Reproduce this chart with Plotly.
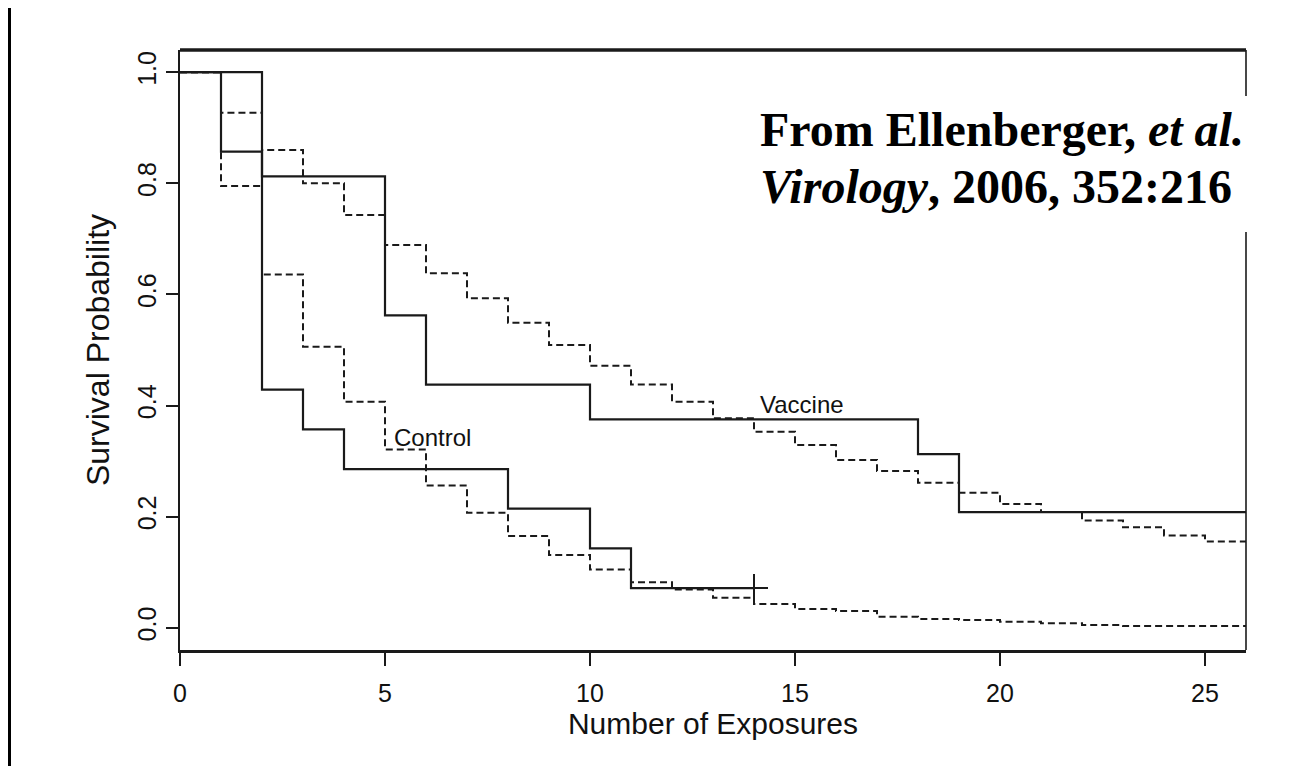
import plotly.graph_objects as go

# ---------------- data ----------------
# model-based (dashed) survival curves, one level per exposure interval [k, k+1)
exposures = list(range(27))  # 0 .. 26
vaccine_model = [1.0, 0.927, 0.860, 0.800, 0.743, 0.689, 0.638, 0.593, 0.549, 0.509,
                 0.4715, 0.438, 0.407, 0.377, 0.353, 0.329, 0.302, 0.282, 0.261, 0.243,
                 0.223, 0.2085, 0.193, 0.181, 0.166, 0.1555]
control_model = [1.0, 0.795, 0.636, 0.506, 0.407, 0.321, 0.256, 0.207, 0.165, 0.131,
                 0.105, 0.082, 0.069, 0.054, 0.043, 0.034, 0.030, 0.020, 0.016, 0.014,
                 0.011, 0.008, 0.005, 0.003, 0.003, 0.003]

# Kaplan-Meier (solid) curves
vaccine_km_times = [0, 2, 5, 6, 10, 18, 19, 26]
vaccine_km_surv = [1.0, 0.8125, 0.5625, 0.4375, 0.375, 0.3125, 0.2083, 0.2083]
control_km_times = [0, 1, 2, 3, 4, 8, 10, 11, 14]
control_km_surv = [1.0, 0.857, 0.4286, 0.357, 0.2857, 0.2143, 0.1429, 0.0714, 0.0714]
control_censor_time = [14]
control_censor_surv = [0.0714]

x_ticks = [0, 5, 10, 15, 20, 25]
y_ticks = [0.0, 0.2, 0.4, 0.6, 0.8, 1.0]

LINE = "#1a1a1a"
SANS = "Liberation Sans, Arial, Helvetica, sans-serif"
SERIF = "Liberation Serif, Times New Roman, serif"

# layout geometry (figure is drawn 8px in from the page corner)
ML, MT, PW, PH = 172, 42, 1066, 600
FIG_W, FIG_H = 1295, 758


def px_x(p):
    return (p - ML) / PW


def px_y(p):
    return (MT + PH - p) / PH


fig = go.Figure()

fig.add_trace(go.Scatter(x=exposures, y=vaccine_model + [vaccine_model[-1]], mode="lines",
                         line=dict(shape="hv", color=LINE, width=2, dash="7px,4px"),
                         name="Vaccine (model)", showlegend=False))
fig.add_trace(go.Scatter(x=exposures, y=control_model + [control_model[-1]], mode="lines",
                         line=dict(shape="hv", color=LINE, width=2, dash="7px,4px"),
                         name="Control (model)", showlegend=False))
fig.add_trace(go.Scatter(x=vaccine_km_times, y=vaccine_km_surv, mode="lines",
                         line=dict(shape="hv", color=LINE, width=2.2),
                         name="Vaccine", showlegend=False))
fig.add_trace(go.Scatter(x=control_km_times, y=control_km_surv, mode="lines",
                         line=dict(shape="hv", color=LINE, width=2.2),
                         name="Control", showlegend=False))
fig.add_trace(go.Scatter(x=control_censor_time, y=control_censor_surv, mode="markers",
                         marker=dict(symbol="cross-thin", size=20,
                                     line=dict(color=LINE, width=2)),
                         name="Censored", showlegend=False))

# curve labels
fig.add_annotation(x=14.1, y=0.402, xref="x", yref="y", text="Vaccine", showarrow=False,
                   xanchor="left", yanchor="middle",
                   font=dict(family=SANS, size=24, color="#111"))
fig.add_annotation(x=5.16, y=0.342, xref="x", yref="y", text="Control", showarrow=False,
                   xanchor="left", yanchor="middle",
                   font=dict(family=SANS, size=24, color="#111"))

# citation (white box interrupts the right frame line)
fig.add_shape(type="rect", xref="paper", yref="paper", x0=px_x(740), x1=px_x(1254),
              y0=px_y(224), y1=px_y(88), fillcolor="white", line=dict(width=0), layer="above")
fig.add_annotation(x=px_x(750), y=px_y(122), xref="paper", yref="paper",
                   text="<b>From Ellenberger, <i>et al.</i></b>", showarrow=False,
                   xanchor="left", yanchor="middle",
                   font=dict(family=SERIF, size=48, color="black"))
fig.add_annotation(x=px_x(750), y=px_y(178), xref="paper", yref="paper",
                   text="<b><i>Virology</i>, 2006, 352:216</b>", showarrow=False,
                   xanchor="left", yanchor="middle",
                   font=dict(family=SERIF, size=48, color="black"))

# frame: thick top line and thin right line
fig.add_shape(type="line", xref="paper", yref="paper", x0=0, x1=1, y0=1, y1=1,
              line=dict(color=LINE, width=3.5), layer="below")
fig.add_shape(type="line", xref="paper", yref="paper", x0=1, x1=1, y0=0, y1=1,
              line=dict(color=LINE, width=1.6), layer="below")

# black page edge on the left (scanned look)
fig.add_shape(type="rect", xref="paper", yref="paper", x0=px_x(-5), x1=px_x(3),
              y0=px_y(FIG_H + 5), y1=px_y(-5), fillcolor="black", line=dict(width=0),
              layer="below")

fig.update_layout(
    width=FIG_W, height=FIG_H,
    margin=dict(l=ML, r=FIG_W - ML - PW, t=MT, b=FIG_H - MT - PH),
    paper_bgcolor="white", plot_bgcolor="white",
    showlegend=False,
    xaxis=dict(range=[0, 26], tickvals=x_ticks, ticktext=[str(v) for v in x_ticks],
               ticks="outside", ticklen=13, tickwidth=2, tickcolor=LINE,
               showline=True, linecolor=LINE, linewidth=2.5,
               showgrid=False, zeroline=False, ticklabelstandoff=6,
               tickfont=dict(family=SANS, size=25, color="#111"),
               title=dict(text="Number of Exposures", standoff=8,
                          font=dict(family=SANS, size=30, color="#111")),
               automargin=True),
    yaxis=dict(range=[-0.04, 1.04], tickvals=y_ticks, ticktext=["%.1f" % v for v in y_ticks],
               ticks="outside", ticklen=12, tickwidth=2, tickcolor=LINE,
               showline=True, linecolor=LINE, linewidth=2,
               showgrid=False, zeroline=False, tickangle=-90, ticklabelstandoff=0,
               tickfont=dict(family=SANS, size=25, color="#111"),
               title=dict(text="Survival Probability", standoff=14,
                          font=dict(family=SANS, size=32, color="#111")),
               automargin=True),
)

fig.write_html("out.html")
